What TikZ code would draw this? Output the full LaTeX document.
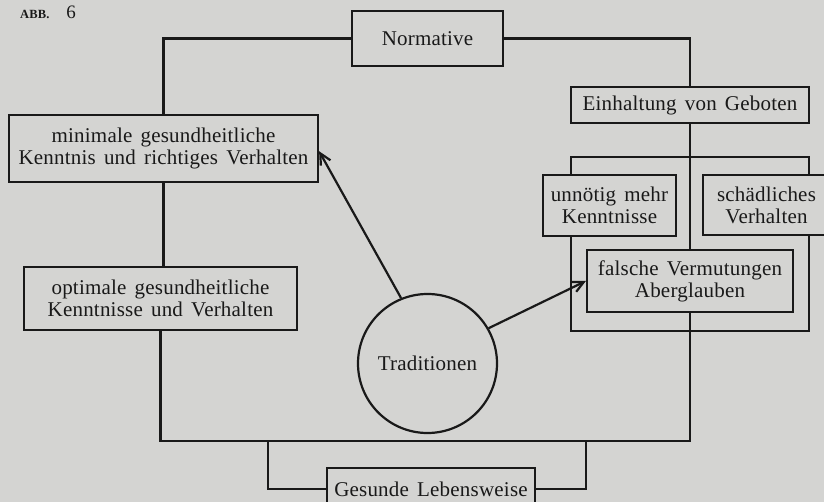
\documentclass[tikz,border=0pt]{standalone}
\usepackage{fontspec}
\setmainfont[WordSpace=1.5, LetterSpace=1]{Liberation Serif}
\usetikzlibrary{arrows.meta}
\definecolor{bg}{RGB}{212,212,210}
\definecolor{ink}{RGB}{25,25,25}
\tikzset{
  box/.style={draw=ink, fill=bg, line width=2.2pt, inner sep=0pt, align=center,
    font=\fontsize{21}{22}\selectfont, text=ink},
  conn/.style={draw=ink, line width=2.2pt},
  arr/.style={draw=ink, line width=2.2pt, -{Straight Barb[length=11pt,width=11pt,line width=2.2pt]}},
}
\begin{document}
\begin{tikzpicture}[x=1pt,y=-1pt]
\fill[bg] (0,0) rectangle (824,502);
\useasboundingbox (0,0) rectangle (824,502);
\clip (0,0) rectangle (824,502);

\node[text=ink, anchor=base west, inner sep=0pt] (abb) at (20,19) {{\fontsize{12.5}{13}\selectfont\bfseries ABB.}\hspace{17pt}{\fontsize{19}{19}\selectfont 6}};

% frame behind the right-hand boxes
\node[draw=ink, line width=2.2pt, minimum width=238pt, minimum height=174pt, inner sep=0pt] (frame) at (690,244) {};

\node[box, minimum width=151pt, minimum height=55pt] (norm) at (427.5,38.5) {Normative};
\node[box, minimum width=309pt, minimum height=67pt] (mini) at (163.5,148.5) {minimale gesundheitliche\\Kenntnis und richtiges Verhalten};
\node[box, minimum width=273pt, minimum height=63pt] (opti) at (160.5,298.5) {optimale gesundheitliche\\Kenntnisse und Verhalten};
\node[box, minimum width=238pt, minimum height=36pt] (einh) at (690,105) {Einhaltung von Geboten};
\node[box, minimum width=133pt, minimum height=61pt] (unno) at (609.5,205.5) {unnötig mehr\\Kenntnisse};
\node[box, minimum width=127pt, minimum height=60pt] (schae) at (766.5,205) {schädliches\\Verhalten};
\node[box, minimum width=206pt, minimum height=62pt] (fals) at (690,281) {falsche Vermutungen\\Aberglauben};
\node[box, minimum width=208pt, minimum height=42pt, text depth=0pt] (ges) at (431,489) {Gesunde Lebensweise};
\node[draw=ink, line width=2.2pt, circle, minimum size=139pt, inner sep=0pt, font=\fontsize{21}{22}\selectfont, text=ink] (trad) at (427.5,363.5) {Traditionen};

\coordinate (busR) at (690,441);
\coordinate (gesL) at (268,441);
\coordinate (gesR) at (586,441);

\draw[conn] (norm.west) -| (mini.north);
\draw[conn] (norm.east) -| (einh.north);
\draw[conn] (mini.south) -- (mini.south |- opti.north);
\draw[conn] (opti.south) |- (busR) -- (fals.south);
\draw[conn] (einh.south) -- (fals.north);
\draw[conn] (ges.west) -| (gesL);
\draw[conn] (ges.east) -| (gesR);

\draw[arr] (trad.112) -- (mini.-1.7);
\draw[arr] (trad.30) -- (fals.west);
\end{tikzpicture}
\end{document}
